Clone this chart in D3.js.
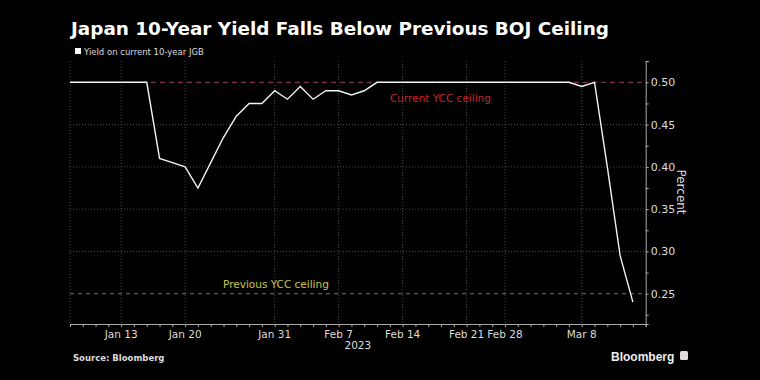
<!DOCTYPE html>
<html>
<head>
<meta charset="utf-8">
<script src="https://cdn.jsdelivr.net/npm/d3@7"></script>
<style>
	body { margin: 0; background: #000; }
	text { font-family: "DejaVu Sans", sans-serif; }
</style>
</head>
<body>
<script>
	// data (trading days, Japan)
	var dates = ["Jan 6", "Jan 10", "Jan 11", "Jan 12", "Jan 13", "Jan 16", "Jan 17", "Jan 18", "Jan 19", "Jan 20",
		"Jan 23", "Jan 24", "Jan 25", "Jan 26", "Jan 27", "Jan 30", "Jan 31", "Feb 1", "Feb 2", "Feb 3",
		"Feb 6", "Feb 7", "Feb 8", "Feb 9", "Feb 10", "Feb 13", "Feb 14", "Feb 15", "Feb 16", "Feb 17",
		"Feb 20", "Feb 21", "Feb 22", "Feb 27", "Feb 28", "Mar 1", "Mar 2", "Mar 3", "Mar 6", "Mar 7",
		"Mar 8", "Mar 9", "Mar 10", "Mar 13", "Mar 14"];
	var yields = [0.50, 0.50, 0.50, 0.50, 0.50, 0.50, 0.50, 0.41, 0.405, 0.40,
		0.375, 0.405, 0.435, 0.46, 0.475, 0.475, 0.49, 0.48, 0.495, 0.48,
		0.49, 0.49, 0.485, 0.49, 0.50, 0.50, 0.50, 0.50, 0.50, 0.50,
		0.50, 0.50, 0.50, 0.50, 0.50, 0.50, 0.50, 0.50, 0.50, 0.50,
		0.495, 0.50, 0.40, 0.295, 0.24];
	var tickLabels = ["Jan 13", "Jan 20", "Jan 31", "Feb 7", "Feb 14", "Feb 21", "Feb 28", "Mar 8"];
	var yTicks = [0.25, 0.30, 0.35, 0.40, 0.45, 0.50];
	var ceilings = [
		{ name: "Current YCC ceiling", value: 0.50 },
		{ name: "Previous YCC ceiling", value: 0.25 }
	];

	var svg_w = 760;
	var svg_h = 380;
	var svg = d3.select("body").append("svg")
		.attr("width", svg_w)
		.attr("height", svg_h)
		.style("background", "#000");

	// plot box
	var pLeft = 70, pRight = 645.7, pTop = 61, pBottom = 324;

	var x = d3.scaleLinear()
		.domain([0, dates.length])
		.range([pLeft, pRight]);

	var y = d3.scaleLinear()
		.domain([0.2142, 0.5252])
		.range([pBottom, pTop]);

	// title + legend
	svg.append("text")
		.attr("x", 71).attr("y", 35)
		.attr("fill", "#fff")
		.attr("font-size", 18.4)
		.attr("font-weight", "bold")
		.text("Japan 10-Year Yield Falls Below Previous BOJ Ceiling");

	svg.append("rect")
		.attr("x", 75).attr("y", 48)
		.attr("width", 6).attr("height", 6)
		.attr("fill", "#fff");
	svg.append("text")
		.attr("x", 84).attr("y", 55)
		.attr("fill", "#ddd")
		.attr("font-size", 8.5)
		.text("Yield on current 10-year JGB");

	// grid
	var grid = svg.append("g").attr("class", "grid");
	var vIdx = [0].concat(tickLabels.map(d => dates.indexOf(d)));
	grid.selectAll("line.v")
		.data(vIdx)
		.enter()
		.append("line")
		.attr("x1", d => x(d)).attr("x2", d => x(d))
		.attr("y1", pTop).attr("y2", pBottom)
		.attr("stroke", "#4a4a4a")
		.attr("stroke-dasharray", "1,2");
	grid.selectAll("line.h")
		.data(yTicks.filter(d => d != 0.25 && d != 0.50))
		.enter()
		.append("line")
		.attr("x1", pLeft).attr("x2", pRight)
		.attr("y1", d => y(d)).attr("y2", d => y(d))
		.attr("stroke", "#4a4a4a")
		.attr("stroke-dasharray", "1,2");

	// ceilings
	var ceilColors = ["#7d3443", "#7a7a4c"];
	var ceilText = ["#c8242e", "#c9c64a"];
	svg.selectAll("line.ceil")
		.data(ceilings)
		.enter()
		.append("line")
		.attr("x1", pLeft).attr("x2", pRight)
		.attr("y1", d => y(d.value)).attr("y2", d => y(d.value))
		.attr("stroke", (d, i) => ceilColors[i])
		.attr("stroke-width", 1.2)
		.attr("stroke-dasharray", (d, i) => i == 0 ? "5,4" : "4,4");

	svg.append("text")
		.attr("x", 390).attr("y", y(0.50) + 20)
		.attr("fill", ceilText[0])
		.attr("font-size", 10.5)
		.text(ceilings[0].name);
	svg.append("text")
		.attr("x", 223).attr("y", y(0.25) - 6)
		.attr("fill", ceilText[1])
		.attr("font-size", 10.5)
		.text(ceilings[1].name);

	// line
	var line = d3.line()
		.x((d, i) => x(i))
		.y(d => y(d));
	svg.append("path")
		.datum(yields)
		.attr("d", line)
		.attr("fill", "none")
		.attr("stroke", "#f2f2f2")
		.attr("stroke-width", 1.4);

	// x axis
	var xAxis = svg.append("g")
		.attr("transform", "translate(0," + pBottom + ")")
		.call(d3.axisBottom(x)
			.tickValues(d3.range(0, dates.length + 1))
			.tickSize(3)
			.tickFormat(""));
	xAxis.select(".domain").attr("stroke", "#aaa");
	xAxis.selectAll(".tick line").attr("stroke", "#aaa");

	svg.selectAll("text.xlab")
		.data(tickLabels)
		.enter()
		.append("text")
		.attr("x", d => x(dates.indexOf(d)))
		.attr("y", 338)
		.attr("text-anchor", "middle")
		.attr("fill", "#ddd")
		.attr("font-size", 10.5)
		.text(d => d);
	svg.append("text")
		.attr("x", (pLeft + pRight) / 2)
		.attr("y", 349)
		.attr("text-anchor", "middle")
		.attr("fill", "#ddd")
		.attr("font-size", 10.5)
		.text("2023");

	// y axis (right)
	var yAxis = svg.append("g")
		.attr("transform", "translate(" + pRight + ",0)")
		.call(d3.axisRight(y)
			.tickValues(d3.range(0.225, 0.526, 0.025))
			.tickSize(3)
			.tickFormat(""));
	yAxis.select(".domain").attr("stroke", "#aaa");
	yAxis.selectAll(".tick line").attr("stroke", "#aaa");

	svg.selectAll("text.ylab")
		.data(yTicks)
		.enter()
		.append("text")
		.attr("x", pRight + 5)
		.attr("y", d => y(d) + 4)
		.attr("fill", "#ddd")
		.attr("font-size", 11)
		.text(d => d.toFixed(2));

	svg.append("text")
		.attr("transform", "translate(677,192) rotate(90)")
		.attr("text-anchor", "middle")
		.attr("fill", "#ddd")
		.attr("font-size", 12)
		.text("Percent");

	// footer
	svg.append("text")
		.attr("x", 73).attr("y", 361)
		.attr("fill", "#ddd")
		.attr("font-size", 8.5)
		.attr("font-weight", "bold")
		.text("Source: Bloomberg");

	svg.append("text")
		.attr("x", 611).attr("y", 361)
		.attr("fill", "#eee")
		.attr("font-size", 12)
		.attr("font-weight", "bold")
		.style("font-family", "'Liberation Sans', Arial, sans-serif")
		.text("Bloomberg");
	svg.append("rect")
		.attr("x", 680).attr("y", 351)
		.attr("width", 8).attr("height", 9)
		.attr("rx", 1.5)
		.attr("fill", "#ddd");
</script>
</body>
</html>
